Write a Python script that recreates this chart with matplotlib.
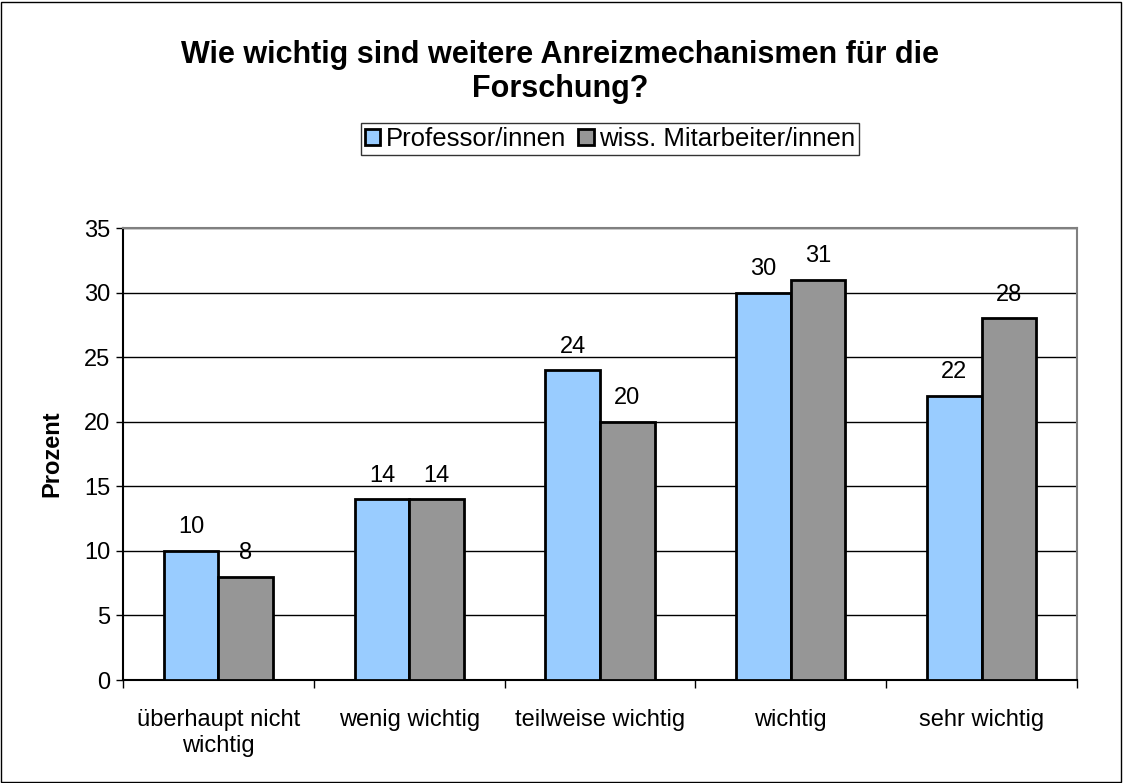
import numpy as np
import matplotlib.pyplot as plt
from matplotlib.patches import Rectangle

plt.rcParams['font.family'] = ['Liberation Sans', 'DejaVu Sans']

categories = ['überhaupt nicht\nwichtig', 'wenig wichtig', 'teilweise wichtig', 'wichtig', 'sehr wichtig']
professoren = [10, 14, 24, 30, 22]
mitarbeiter = [8, 14, 20, 31, 28]
series_names = ['Professor/innen', 'wiss. Mitarbeiter/innen']

fig = plt.figure(figsize=(11.23, 7.83), dpi=100)
ax = fig.add_axes([0.1095, 0.1315, 0.8495, 0.5773])

x = np.arange(len(categories))
w = 0.286
b1 = ax.bar(x - w / 2, professoren, w, color='#99CCFF', edgecolor='black', linewidth=2, label=series_names[0], zorder=3)
b2 = ax.bar(x + w / 2, mitarbeiter, w, color='#969696', edgecolor='black', linewidth=2, label=series_names[1], zorder=3)

for bars in (b1, b2):
    for r in bars:
        ax.annotate(f'{r.get_height():g}', (r.get_x() + r.get_width() / 2, r.get_height()),
                    xytext=(0, 9), textcoords='offset points', ha='center', va='bottom', fontsize=17)

ax.set_xlim(-0.5, 4.5)
ax.set_ylim(0, 35)
ax.set_yticks(range(0, 36, 5))
ax.yaxis.grid(True, color='black', linewidth=1)
ax.set_axisbelow(True)
ax.tick_params(axis='y', labelsize=17, length=5, width=1, direction='out', pad=4)

ax.set_xticks(x)
ax.set_xticklabels(categories, fontsize=17)
ax.tick_params(axis='x', which='major', length=0, pad=21)
ax.set_xticks(np.arange(-0.5, 4.6, 1), minor=True)
ax.tick_params(axis='x', which='minor', length=6, width=1, direction='out')

for s in ('top', 'right'):
    ax.spines[s].set_color('#808080')
    ax.spines[s].set_linewidth(1.5)
ax.spines['left'].set_linewidth(1.5)
ax.spines['bottom'].set_linewidth(1.5)

ax.set_ylabel('Prozent', fontsize=17, fontweight='bold', labelpad=15)

fig.text(0.499, 0.908, 'Wie wichtig sind weitere Anreizmechanismen für die\nForschung?',
         ha='center', va='center', fontsize=22, fontweight='bold', linespacing=1.15)

leg = ax.legend(loc='center', bbox_to_anchor=(0.5432, 0.8225), bbox_transform=fig.transFigure,
                ncol=2, fontsize=18.5, frameon=True, fancybox=False, edgecolor='black',
                handlelength=0.6, handleheight=0.6, handletextpad=0.2, columnspacing=0.5,
                borderpad=0.15, borderaxespad=0)
leg.get_frame().set_linewidth(1)

fig.patches.append(Rectangle((0.001, 0.001), 0.997, 0.997, transform=fig.transFigure,
                             fill=False, edgecolor='black', linewidth=1))

fig.savefig('out.png', dpi=100, facecolor='white')
